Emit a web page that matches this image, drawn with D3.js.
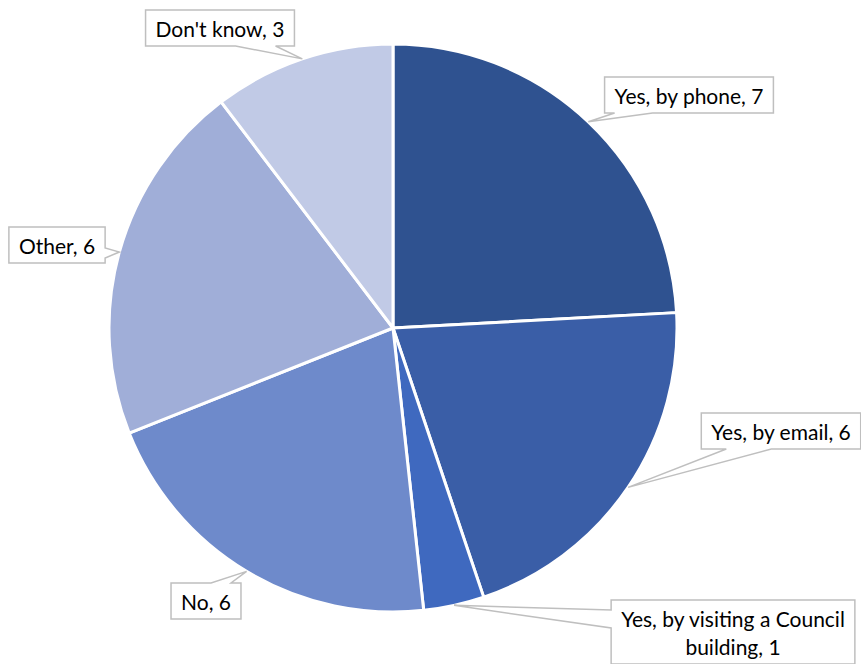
<!DOCTYPE html>
<html>
<head>
<meta charset="utf-8">
<script src="https://cdn.jsdelivr.net/npm/d3@7"></script>
<style>
  body { margin: 0; background: #fff; }
  svg { display: block; }
</style>
</head>
<body>
<script>
// answers and counts, clockwise from 12 o'clock
var categories = ["Yes, by phone", "Yes, by email", "Yes, by visiting a Council building", "No", "Other", "Don't know"];
var counts = [7, 6, 1, 6, 6, 3];
var labelLines = [
  ["Yes, by phone, 7"],
  ["Yes, by email, 6"],
  ["Yes, by visiting a Council", "building, 1"],
  ["No, 6"],
  ["Other, 6"],
  ["Don't know, 3"]
];

var colors = ["#2f5290", "#3a5ea7", "#3f69bf", "#6e8acb", "#a0aed8", "#c1cae6"];

// callout box centres and which side the pointer leaves from
var callouts = [
  { cx: 689, cy: 95,  side: "bottom", a: 10, b: 48 },
  { cx: 781, cy: 431, side: "bottom", a: 25, b: 70 },
  { cx: 733, cy: 632, side: "left",   a: 10, b: 28 },
  { cx: 206, cy: 601, side: "top",    a: 40, b: 60 },
  { cx: 57,  cy: 245, side: "right",  a: 21, b: 31 },
  { cx: 220, cy: 28,  side: "bottom", a: 90, b: 130 }
];

var svgWidth = 861;
var svgHeight = 664;
var centerX = 393;
var centerY = 328;
var radius = 284;
var fontSize = 21;
var lineHeight = 28;
var pad = 10;

var svg = d3.select("body")
            .append("svg")
            .attr("width", svgWidth)
            .attr("height", svgHeight);

var pie = d3.pie()
            .sort(null)
            .value(function(d) { return d; });

var arc = d3.arc()
            .innerRadius(0)
            .outerRadius(radius);

var slices = pie(counts);

var g = svg.append("g")
           .attr("transform", "translate(" + centerX + "," + centerY + ")");

g.selectAll("path")
  .data(slices)
  .enter()
  .append("path")
  .attr("d", arc)
  .attr("fill", function(d, i) { return colors[i]; })
  .attr("stroke", "#fff")
  .attr("stroke-width", 3)
  .attr("stroke-linejoin", "round");

// builds the box outline with the pointer wedge cut into one side
function calloutPath(x, y, w, h, side, a, b, tip) {
  var p = d3.path();
  p.moveTo(x, y);
  if (side == "top") { p.lineTo(x + a, y); p.lineTo(tip[0], tip[1]); p.lineTo(x + b, y); }
  p.lineTo(x + w, y);
  if (side == "right") { p.lineTo(x + w, y + a); p.lineTo(tip[0], tip[1]); p.lineTo(x + w, y + b); }
  p.lineTo(x + w, y + h);
  if (side == "bottom") { p.lineTo(x + b, y + h); p.lineTo(tip[0], tip[1]); p.lineTo(x + a, y + h); }
  p.lineTo(x, y + h);
  if (side == "left") { p.lineTo(x, y + b); p.lineTo(tip[0], tip[1]); p.lineTo(x, y + a); }
  p.closePath();
  return p.toString();
}

var labels = svg.append("g");

slices.forEach(function(s, i) {
  var c = callouts[i];
  var mid = (s.startAngle + s.endAngle) / 2;
  var pt = d3.pointRadial(mid, radius);
  var tip = [pt[0] + centerX, pt[1] + centerY];

  var grp = labels.append("g");
  var box = grp.append("path");

  var lines = labelLines[i];
  var textTop = c.cy - (lines.length * lineHeight) / 2;
  var widest = 0;
  lines.forEach(function(line, j) {
    var t = grp.append("text")
      .attr("x", c.cx)
      .attr("y", textTop + lineHeight * j + lineHeight / 2)
      .attr("text-anchor", "middle")
      .attr("dominant-baseline", "central")
      .style("font-family", "Lato, 'Open Sans', sans-serif")
      .style("font-size", fontSize + "px")
      .style("fill", "#000")
      .text(line);
    widest = Math.max(widest, t.node().getComputedTextLength());
  });

  var w = widest + pad * 2;
  var h = lines.length * lineHeight + 8;
  var x = c.cx - w / 2;
  var y = c.cy - h / 2;

  box.attr("d", calloutPath(x, y, w, h, c.side, c.a, c.b, tip))
     .attr("fill", "#fff")
     .attr("stroke", "#bfbfbf")
     .attr("stroke-width", 1.5);
});
</script>
</body>
</html>
